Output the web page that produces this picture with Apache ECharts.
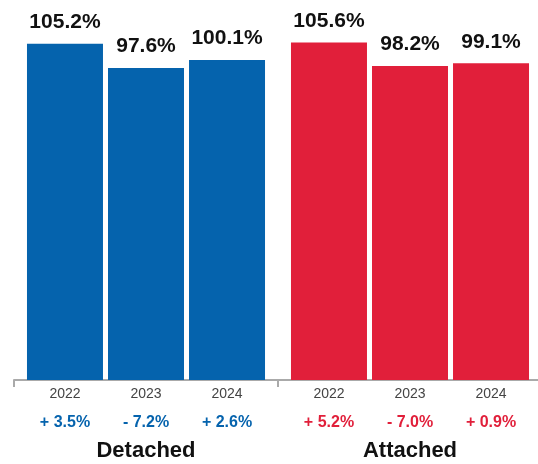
<!DOCTYPE html>
<html>
<head>
<meta charset="utf-8">
<script src="https://cdn.jsdelivr.net/npm/echarts@6/dist/echarts.min.js"></script>
<style>html,body{margin:0;padding:0;background:#fff}#c{width:538px;height:464px}</style>
</head>
<body>
<div id="c"></div>
<script>
const groups = ['Detached', 'Attached'];
const years = ['2022', '2023', '2024'];
const detached = [105.2, 97.6, 100.1];
const attached = [105.6, 98.2, 99.1];
const detachedChange = ['+ 3.5%', '- 7.2%', '+ 2.6%'];
const attachedChange = ['+ 5.2%', '- 7.0%', '+ 0.9%'];
const groupColors = ['#0563ad', '#e11f3a'];

const FONT = '"Liberation Sans", Arial, Helvetica, sans-serif';
const values = [detached, attached];
const changes = [detachedChange, attachedChange];

const series = [];
years.forEach((yr, i) => {
  series.push({
    type: 'bar',
    stack: 's' + i,
    barWidth: 76,
    barGap: '6.6%',
    data: groups.map((g, gi) => ({ value: values[gi][i], itemStyle: { color: groupColors[gi] } })),
    label: {
      show: true,
      position: 'bottom',
      distance: 4,
      formatter: p => '{y|' + yr + '}\n{c' + p.dataIndex + '|' + changes[p.dataIndex][i] + '}',
      rich: {
        y: { fontFamily: FONT, fontSize: 14, color: '#444', lineHeight: 20, align: 'center' },
        c0: { fontFamily: FONT, fontSize: 16, fontWeight: 'bold', color: groupColors[0], lineHeight: 38, align: 'center' },
        c1: { fontFamily: FONT, fontSize: 16, fontWeight: 'bold', color: groupColors[1], lineHeight: 38, align: 'center' }
      }
    },
    silent: true
  });
  series.push({
    type: 'bar',
    stack: 's' + i,
    barWidth: 76,
    barGap: '6.6%',
    data: groups.map(() => 0),
    label: {
      show: true,
      position: 'top',
      distance: 11,
      formatter: p => values[p.dataIndex][i].toFixed(1) + '%',
      fontFamily: FONT,
      fontSize: 21,
      fontWeight: 'bold',
      color: '#111'
    },
    silent: true
  });
});

const chart = echarts.init(document.getElementById('c'), null, { renderer: 'canvas' });
chart.setOption({
  animation: false,
  grid: { left: 14, width: 528, top: 30, height: 350, containLabel: false, outerBoundsMode: 'none' },
  xAxis: {
    type: 'category',
    data: groups,
    axisLine: { lineStyle: { color: '#aaaaaa', width: 2 } },
    axisTick: { show: true, length: 7, lineStyle: { color: '#aaaaaa', width: 2 } },
    axisLabel: { margin: 58, fontFamily: FONT, fontSize: 22, fontWeight: 'bold', color: '#111', lineHeight: 26 }
  },
  yAxis: { type: 'value', min: 0, max: 109.5, show: false, splitLine: { show: false } },
  series: series
});
</script>
</body>
</html>
